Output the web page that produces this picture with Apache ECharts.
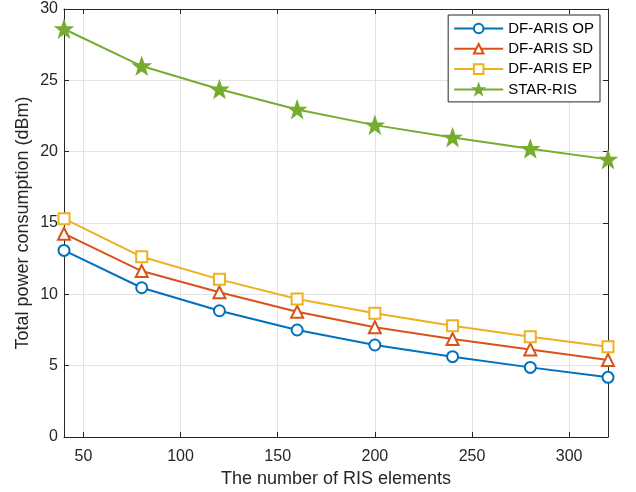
<!DOCTYPE html>
<html><head><meta charset="utf-8">
<script src="https://cdn.jsdelivr.net/npm/echarts@6/dist/echarts.min.js"></script>
<style>html,body{margin:0;padding:0;background:#fff}#c{width:636px;height:492px}</style>
</head><body><div id="c"></div>
<script>
var xValues = [40, 80, 120, 160, 200, 240, 280, 320];
var xTicks = [50, 100, 150, 200, 250, 300];
var yTicks = [0, 5, 10, 15, 20, 25, 30];
var opValues = [13.08, 10.46, 8.85, 7.50, 6.45, 5.63, 4.88, 4.18];
var sdValues = [14.25, 11.63, 10.14, 8.78, 7.69, 6.87, 6.14, 5.40];
var epValues = [15.3, 12.63, 11.05, 9.67, 8.67, 7.80, 7.03, 6.33];
var starValues = [28.6, 26.0, 24.37, 22.96, 21.86, 21.0, 20.2, 19.46];
var names = ['DF-ARIS OP', 'DF-ARIS SD', 'DF-ARIS EP', 'STAR-RIS'];
var colors = ['#0072BD', '#D95319', '#EDB120', '#77AC30'];

var starPath = 'path://M100,0 L123.5,67.6 L195.1,69.1 L138,112.4 L158.8,180.9 L100,140 L41.2,180.9 L62,112.4 L4.9,69.1 L76.5,67.6 Z';
function pairs(v){ return xValues.map(function(x,i){return [x, v[i]];}); }
var font = 'Liberation Sans, Arial, Helvetica, sans-serif';
var axisColor = '#262626';
var chart = echarts.init(document.getElementById('c'));
function mk(name, data, color, symbol, size, filled){
  return {
    name: name, type: 'line', data: pairs(data), symbol: symbol, symbolSize: size,
    showAllSymbol: true,
    lineStyle: {color: color, width: 2},
    itemStyle: {color: filled ? color : '#fff', borderColor: color, borderWidth: 2},
    emphasis: {disabled: true}, z: 3
  };
}
chart.setOption({
  animation: false,
  grid: {left: 64, right: 28, top: 9, bottom: 55, containLabel: false, outerBoundsMode: 'none'},
  legend: {
    orient: 'vertical', right: 36, top: 15, itemWidth: 49, itemHeight: 12, itemGap: 5.3,
    padding: [6, 6, 5, 5],
    borderColor: axisColor, borderWidth: 1, backgroundColor: '#fff', borderRadius: 0,
    textStyle: {fontFamily: font, fontSize: 15, color: '#000'},
    data: names
  },
  xAxis: [{
    type: 'value', min: 40, max: 320, position: 'bottom',
    name: 'The number of RIS elements', nameLocation: 'middle', nameGap: 33, nameMoveOverlap: false,
    nameTextStyle: {fontFamily: font, fontSize: 18, color: '#262626'},
    axisLine: {show: true, lineStyle: {color: axisColor, width: 1}},
    axisTick: {show: true, inside: true, length: 5, customValues: xTicks, lineStyle: {color: axisColor}},
    axisLabel: {customValues: xTicks, fontFamily: font, fontSize: 16, color: '#262626', margin: 12},
    splitLine: {show: true, lineStyle: {color: '#e3e3e3', width: 1}}
  }, {
    type: 'value', min: 40, max: 320, position: 'top',
    axisLine: {show: true, onZero: false, lineStyle: {color: axisColor, width: 1}},
    axisTick: {show: true, inside: true, length: 5, customValues: xTicks, lineStyle: {color: axisColor}},
    axisLabel: {show: false}, splitLine: {show: false}
  }],
  yAxis: [{
    type: 'value', min: 0, max: 30, interval: 5, position: 'left',
    name: 'Total power consumption (dBm)', nameLocation: 'middle', nameGap: 32, nameMoveOverlap: false,
    nameTextStyle: {fontFamily: font, fontSize: 18, color: '#262626'},
    axisLine: {show: true, lineStyle: {color: axisColor, width: 1}},
    axisTick: {show: true, inside: true, length: 5, lineStyle: {color: axisColor}},
    axisLabel: {fontFamily: font, fontSize: 16, color: '#262626', margin: 6},
    splitLine: {show: true, lineStyle: {color: '#e3e3e3', width: 1}}
  }, {
    type: 'value', min: 0, max: 30, interval: 5, position: 'right',
    axisLine: {show: true, onZero: false, lineStyle: {color: axisColor, width: 1}},
    axisTick: {show: true, inside: true, length: 5, lineStyle: {color: axisColor}},
    axisLabel: {show: false}, splitLine: {show: false}
  }],
  series: [
    mk(names[0], opValues, colors[0], 'circle', 11, false),
    mk(names[1], sdValues, colors[1], 'triangle', 12, false),
    mk(names[2], epValues, colors[2], 'rect', 11, false),
    mk(names[3], starValues, colors[3], starPath, 15, true)
  ]
});
</script></body></html>
